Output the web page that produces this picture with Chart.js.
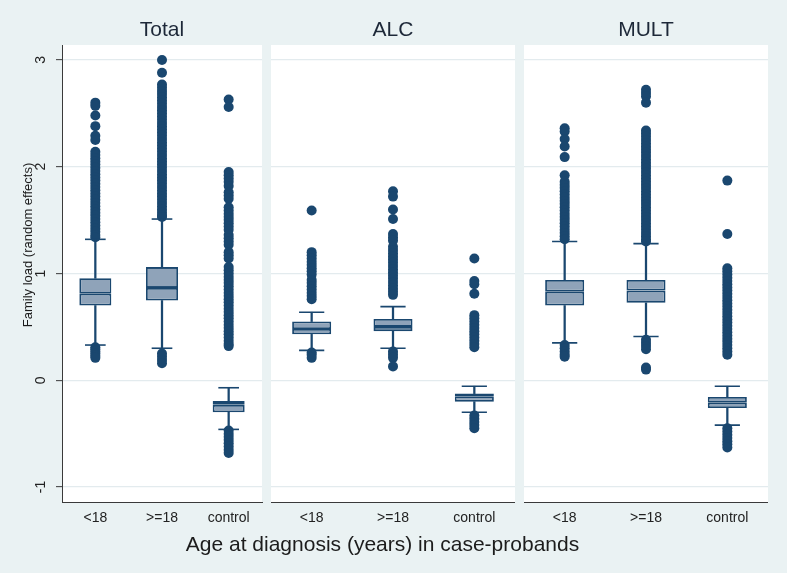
<!DOCTYPE html>
<html>
<head>
<meta charset="utf-8">
<script src="https://cdn.jsdelivr.net/npm/chart.js@4.4.1/dist/chart.umd.min.js"></script>
<style>
  html, body { margin: 0; padding: 0; background: #eaf2f3; }
  #wrap { position: relative; width: 787px; height: 573px; overflow: hidden;
          font-family: 'Liberation Sans', Arial, sans-serif; color: #1c1c1c; }
  canvas { position: absolute; top: 0; }
  .ptitle { position: absolute; top: 17px; height: 24px; line-height: 24px; font-size: 21px; text-align: center; color: #1d2838; }
  #xtitle { position: absolute; left: 0; width: 787px; top: 531px; height: 26px; line-height: 26px; font-size: 21px; text-align: center; padding-right: 22px; box-sizing: border-box; }
  #ytitle { position: absolute; left: 28px; top: 245px; width: 240px; height: 16px; line-height: 16px; margin-left: -120px; margin-top: -8px;
            font-size: 13px; text-align: center; transform: rotate(-90deg); white-space: nowrap; }
</style>
</head>
<body>
<div id="wrap">
  <canvas id="cTotal" width="265" height="535" style="left:0px"></canvas>
  <canvas id="cALC" width="244" height="535" style="left:271px"></canvas>
  <canvas id="cMULT" width="244" height="535" style="left:524px"></canvas>
  <div class="ptitle" style="left:62px;width:200px">Total</div>
  <div class="ptitle" style="left:271px;width:244px">ALC</div>
  <div class="ptitle" style="left:524px;width:244px">MULT</div>
  <div id="ytitle">Family load (random effects)</div>
  <div id="xtitle">Age at diagnosis (years) in case-probands</div>
</div>
<script>
const categories = ['<18', '>=18', 'control'];
const yTicks = [-1, 0, 1, 2, 3];
const yMin = -1.14;
const yMax = 3.14;

// per category: [lower whisker, q1, median, q3, upper whisker]
const totalStats = [
  [0.33, 0.70, 0.81, 0.955, 1.32],
  [0.30, 0.747, 0.865, 1.06, 1.51],
  [-0.46, -0.30, -0.23, -0.195, -0.07]
];
const alcStats = [
  [0.28, 0.43, 0.48, 0.55, 0.637],
  [0.30, 0.46, 0.50, 0.575, 0.69],
  [-0.30, -0.20, -0.15, -0.125, -0.056]
];
const multStats = [
  [0.35, 0.70, 0.83, 0.94, 1.30],
  [0.41, 0.725, 0.84, 0.94, 1.28],
  [-0.42, -0.26, -0.21, -0.156, -0.056]
];

// outside values, per category
const totalOutliers = [
  [2.60, 2.57, 2.48, 2.38, 2.29, 2.25, 2.14, 2.11, 2.08, 2.05, 2.02, 1.99, 1.96, 1.93, 1.90, 1.87, 1.84, 1.81, 1.78, 1.75,
   1.72, 1.69, 1.66, 1.63, 1.60, 1.57, 1.54, 1.51, 1.48, 1.45, 1.42, 1.39, 1.36, 1.34,
   0.31, 0.29, 0.27, 0.25, 0.23, 0.21],
  [3.00, 2.88, 2.77, 2.74, 2.71, 2.68, 2.65, 2.62, 2.59, 2.56, 2.53, 2.50, 2.47, 2.44, 2.41, 2.38, 2.35, 2.32, 2.29, 2.26,
   2.23, 2.20, 2.17, 2.14, 2.11, 2.08, 2.05, 2.02, 1.99, 1.96, 1.93, 1.90, 1.87, 1.84, 1.81, 1.78, 1.75, 1.72, 1.69, 1.66,
   1.63, 1.60, 1.57, 1.54, 1.53,
   0.25, 0.22, 0.19, 0.16],
  [2.63, 2.56, 1.95, 1.92, 1.89, 1.86, 1.82, 1.76, 1.73, 1.70, 1.62, 1.59, 1.56, 1.53, 1.50, 1.47, 1.44, 1.41, 1.36, 1.33,
   1.30, 1.27, 1.20, 1.17, 1.14, 1.06, 1.03, 1.00, 0.97, 0.94, 0.91, 0.88, 0.85, 0.82, 0.79, 0.76, 0.73, 0.70, 0.67, 0.64,
   0.61, 0.58, 0.55, 0.52, 0.49, 0.46, 0.43, 0.40, 0.37, 0.34, 0.32,
   -0.47, -0.50, -0.53, -0.56, -0.59, -0.62, -0.65, -0.68]
];
const alcOutliers = [
  [1.59, 1.20, 1.17, 1.14, 1.11, 1.08, 1.05, 1.02, 0.99, 0.94, 0.91, 0.88, 0.85, 0.82, 0.79, 0.76,
   0.26, 0.24, 0.21],
  [1.77, 1.72, 1.60, 1.51, 1.37, 1.34, 1.31, 1.25, 1.22, 1.19, 1.16, 1.13, 1.10, 1.07, 1.04, 1.01, 0.98, 0.95, 0.92, 0.89,
   0.86, 0.83, 0.80,
   0.27, 0.24, 0.21, 0.13],
  [1.14, 0.93, 0.90, 0.81, 0.61, 0.58, 0.55, 0.52, 0.49, 0.46, 0.43, 0.40, 0.37, 0.34, 0.31,
   -0.33, -0.36, -0.39, -0.42, -0.45]
];
const multOutliers = [
  [2.36, 2.33, 2.26, 2.19, 2.09, 1.92, 1.86, 1.83, 1.80, 1.77, 1.74, 1.71, 1.68, 1.65, 1.62, 1.59, 1.56, 1.53, 1.50, 1.47,
   1.44, 1.41, 1.38, 1.35, 1.32,
   0.33, 0.30, 0.27, 0.24, 0.22],
  [2.72, 2.69, 2.66, 2.60, 2.34, 2.31, 2.28, 2.25, 2.22, 2.19, 2.16, 2.13, 2.10, 2.07, 2.04, 2.01, 1.98, 1.95, 1.92, 1.89,
   1.86, 1.83, 1.80, 1.77, 1.74, 1.71, 1.68, 1.65, 1.62, 1.59, 1.56, 1.53, 1.50, 1.47, 1.44, 1.41, 1.38, 1.35, 1.32, 1.30,
   0.38, 0.35, 0.32, 0.29, 0.12, 0.10],
  [1.87, 1.37, 1.05, 1.02, 0.99, 0.96, 0.93, 0.90, 0.87, 0.84, 0.81, 0.78, 0.75, 0.72, 0.69, 0.66, 0.63, 0.60, 0.57, 0.54,
   0.51, 0.48, 0.45, 0.42, 0.39, 0.36, 0.33, 0.30, 0.27, 0.24,
   -0.45, -0.48, -0.51, -0.54, -0.57, -0.60, -0.63]
];

const navy = '#1a476f';
const boxFill = '#8fa3b9';
const gridColor = '#e3ebee';
const axisColor = '#3a3a3a';
const fontFamily = "'Liberation Sans', Arial, sans-serif";

const plotBg = {
  id: 'plotBg',
  beforeDraw(chart) {
    const a = chart.chartArea;
    const ctx = chart.ctx;
    ctx.save();
    ctx.fillStyle = '#ffffff';
    ctx.fillRect(a.left, a.top, a.right - a.left, a.bottom - a.top);
    ctx.restore();
  }
};

function makePanel(canvasId, stats, outliers, showY) {
  const capRadius = ctx => {
    const a = ctx.chart.chartArea;
    return a ? (a.right - a.left) / categories.length * 0.155 : 10;
  };
  const caps = [];
  stats.forEach((s, i) => {
    caps.push({ x: categories[i], y: s[0] });
    caps.push({ x: categories[i], y: s[4] });
  });
  const points = [];
  outliers.forEach((vals, i) => vals.forEach(v => points.push({ x: categories[i], y: v })));

  const boxCommon = {
    type: 'bar', grouped: false, backgroundColor: boxFill, borderColor: navy, borderWidth: 1.8,
    borderSkipped: false, barPercentage: 0.48, categoryPercentage: 1
  };
  const whiskerCommon = { type: 'bar', grouped: false, backgroundColor: navy, borderWidth: 0, barThickness: 1.6 };

  new Chart(document.getElementById(canvasId).getContext('2d'), {
    type: 'bar',
    data: {
      labels: categories,
      datasets: [
        { ...boxCommon, order: 1, data: stats.map(s => [s[2], s[3]]) },
        { ...boxCommon, order: 2, data: stats.map(s => [s[1], s[2]]) },
        { ...whiskerCommon, order: 3, data: stats.map(s => [s[3], s[4]]) },
        { ...whiskerCommon, order: 3, data: stats.map(s => [s[0], s[1]]) },
        { type: 'line', order: 4, data: caps, showLine: false, pointStyle: 'line',
          pointRadius: capRadius, pointBorderColor: navy, pointBorderWidth: 1.6 },
        { type: 'line', order: 5, data: points, showLine: false, pointStyle: 'circle',
          pointRadius: 5, pointBackgroundColor: navy, pointBorderWidth: 0 }
      ]
    },
    options: {
      responsive: false,
      animation: false,
      events: [],
      layout: { autoPadding: false, padding: { top: 45, right: showY ? 3 : 0, left: 0, bottom: 0 } },
      plugins: { legend: { display: false }, tooltip: { enabled: false } },
      scales: {
        x: {
          grid: { display: false, drawTicks: false },
          border: { display: true, color: axisColor, width: 1 },
          ticks: { padding: 8, color: '#222', font: { size: 14, family: fontFamily } },
          afterFit: s => { s.height = 33; }
        },
        y: {
          min: yMin, max: yMax,
          afterBuildTicks: s => { s.ticks = yTicks.map(v => ({ value: v })); },
          afterFit: s => { s.width = showY ? 62 : 0; },
          grid: { color: gridColor, lineWidth: 1.3, drawTicks: showY, tickLength: 6, tickColor: axisColor, tickWidth: 1 },
          border: { display: showY, color: axisColor, width: 1 },
          ticks: { display: showY, minRotation: 90, maxRotation: 90, crossAlign: 'center', padding: 9,
                   color: '#222', font: { size: 14, family: fontFamily } }
        }
      }
    },
    plugins: [plotBg]
  });
}

makePanel('cTotal', totalStats, totalOutliers, true);
makePanel('cALC', alcStats, alcOutliers, false);
makePanel('cMULT', multStats, multOutliers, false);
</script>
</body>
</html>
